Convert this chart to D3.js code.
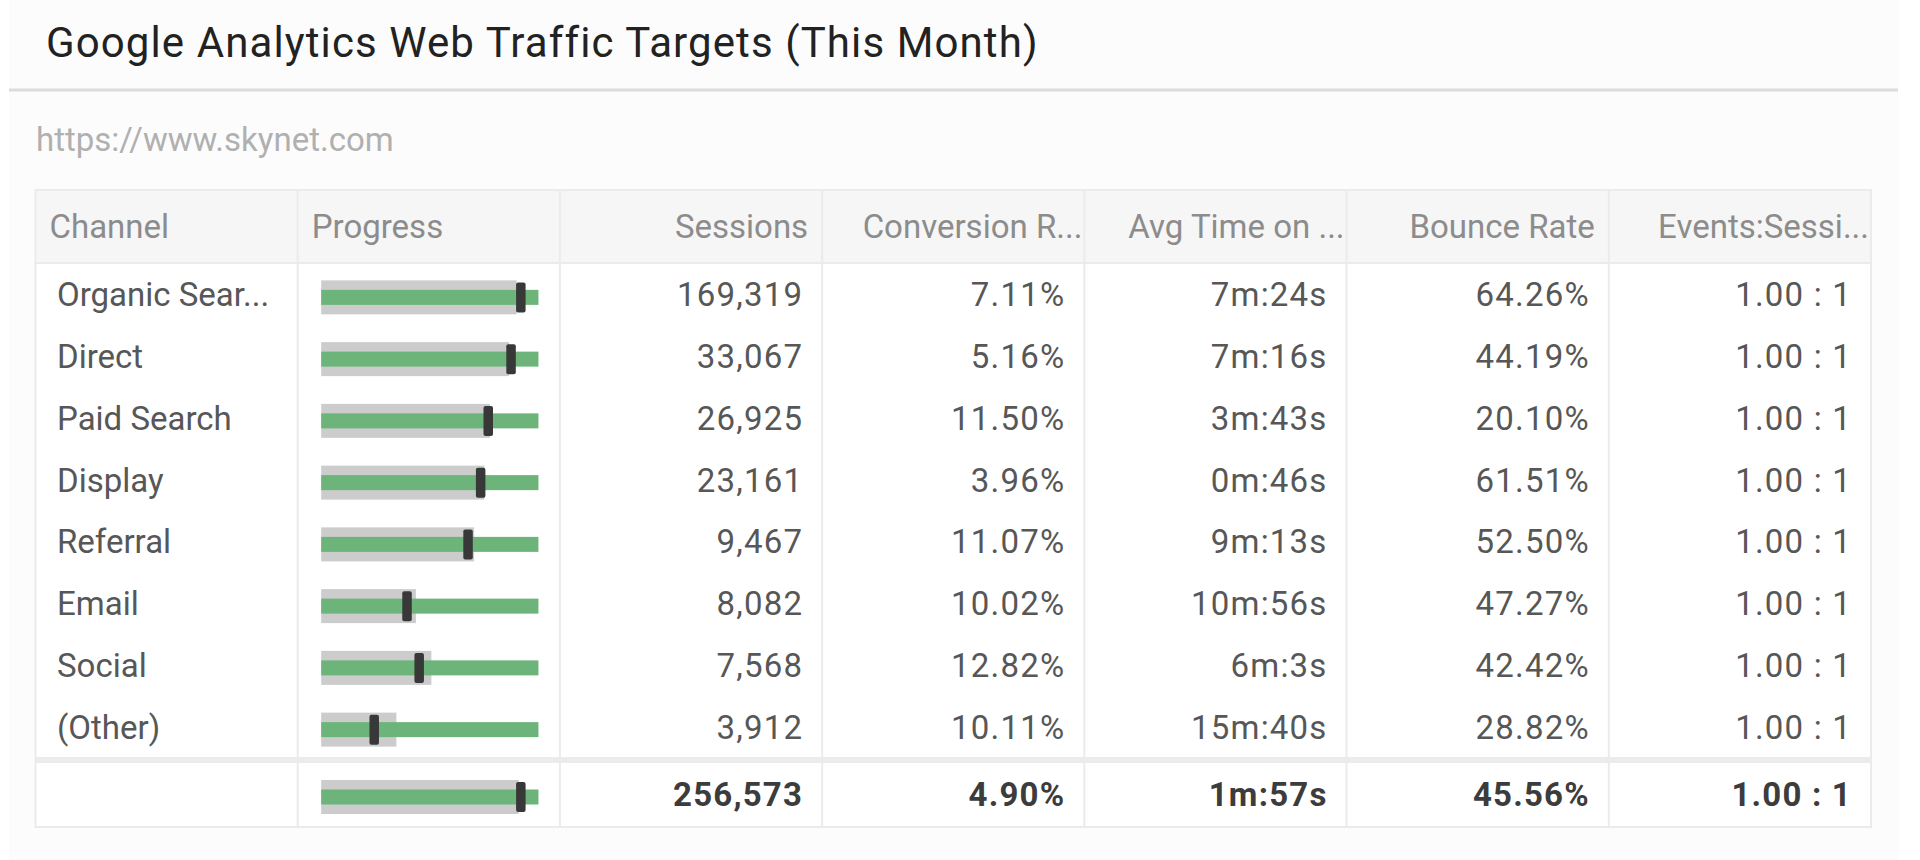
<!DOCTYPE html>
<html>
<head>
<meta charset="utf-8">
<script src="https://cdn.jsdelivr.net/npm/d3@7"></script>
<style>
    body { margin: 0; background: #ffffff; }
    svg { display: block; font-family: Roboto, "Noto Sans", sans-serif; }
</style>
</head>
<body>
<div id="klip"></div>
<script>
// Table data
var columns = ["Channel", "Progress", "Sessions", "Conversion Rate", "Avg Time on Page", "Bounce Rate", "Events:Sessions"];
var channels = ["Organic Search", "Direct", "Paid Search", "Display", "Referral", "Email", "Social", "(Other)"];
var sessions = [169319, 33067, 26925, 23161, 9467, 8082, 7568, 3912];
var conversionRate = [7.11, 5.16, 11.50, 3.96, 11.07, 10.02, 12.82, 10.11];
var avgTimeSec = [444, 436, 223, 46, 553, 656, 363, 940];
var bounceRate = [64.26, 44.19, 20.10, 61.51, 52.50, 47.27, 42.42, 28.82];
var eventsPerSession = [1, 1, 1, 1, 1, 1, 1, 1];

// Progress bullets (share of target)
var progressBand = [0.900, 0.865, 0.777, 0.751, 0.704, 0.436, 0.507, 0.346];
var progressMarker = [0.919, 0.874, 0.769, 0.734, 0.676, 0.395, 0.451, 0.244];

// Totals row
var totalSessions = 256573;
var totalConversion = 4.90;
var totalAvgTime = 117;
var totalBounce = 45.56;
var totalEvents = 1;
var totalBand = 0.909;
var totalMarker = 0.919;

var W = 1920, H = 860;
var table = { left: 35.5, right: 1871, top: 190, headBottom: 263, bodyBottom: 757, totalTop: 763, bottom: 827 };

var fmtInt = d3.format(",");
var fmtPct = function (v) { return d3.format(".2f")(v) + "%"; };
var fmtTime = function (s) { return Math.floor(s / 60) + "m:" + (s % 60) + "s"; };
var fmtRatio = function (v) { return d3.format(".2f")(v) + " : 1"; };

var svg = d3.select("#klip").append("svg")
    .attr("width", W)
    .attr("height", H);

// panel
svg.append("rect")
    .attr("x", 9).attr("y", 0)
    .attr("width", 1889).attr("height", H)
    .attr("fill", "#fcfcfc");

svg.append("text")
    .attr("x", 46)
    .attr("y", 57)
    .attr("fill", "#222")
    .style("font-size", "42px")
    .style("letter-spacing", "1.1px")
    .text("Google Analytics Web Traffic Targets (This Month)");

svg.append("line")
    .attr("x1", 9).attr("x2", 1898)
    .attr("y1", 90).attr("y2", 90)
    .attr("stroke", "#dcdcdc")
    .attr("stroke-width", 3);

svg.append("text")
    .attr("x", 36)
    .attr("y", 151)
    .attr("fill", "#b0b0b0")
    .style("font-size", "33px")
    .text("https://www.skynet.com");

// scales
var x = d3.scaleBand()
    .domain(columns)
    .range([table.left, table.right]);

var y = d3.scaleBand()
    .domain(channels)
    .range([table.headBottom, table.bodyBottom]);

var p = d3.scaleLinear()
    .domain([0, 1])
    .range([x("Progress") + 23.5, x("Progress") + x.bandwidth() - 21.5]);

var g = svg.append("g");

// backgrounds
g.append("rect")
    .attr("x", table.left).attr("y", table.top)
    .attr("width", table.right - table.left).attr("height", table.bottom - table.top)
    .attr("fill", "#ffffff");

g.append("rect")
    .attr("x", table.left).attr("y", table.top)
    .attr("width", table.right - table.left).attr("height", table.headBottom - table.top)
    .attr("fill", "#f6f6f6");

g.append("rect")
    .attr("x", table.left).attr("y", table.bodyBottom)
    .attr("width", table.right - table.left).attr("height", table.totalTop - table.bodyBottom)
    .attr("fill", "#ebebeb");

// grid lines
var lineColor = "#ebebeb";
g.selectAll(".vline")
    .data(columns.slice(1))
    .enter().append("line")
    .attr("class", "vline")
    .attr("x1", function (d) { return x(d); })
    .attr("x2", function (d) { return x(d); })
    .attr("y1", table.top).attr("y2", table.bottom)
    .attr("stroke", lineColor)
    .attr("stroke-width", 2);

g.append("line")
    .attr("x1", table.left).attr("x2", table.right)
    .attr("y1", table.headBottom).attr("y2", table.headBottom)
    .attr("stroke", lineColor)
    .attr("stroke-width", 2);

g.append("rect")
    .attr("x", table.left).attr("y", table.top)
    .attr("width", table.right - table.left).attr("height", table.bottom - table.top)
    .attr("fill", "none")
    .attr("stroke", lineColor)
    .attr("stroke-width", 2);

// fit text into a width, adding "..." when it does not fit
function fitText(sel, text, maxW) {
    var node = sel.node();
    sel.text(text);
    if (node.getComputedTextLength() <= maxW) return false;
    var s = text;
    while (s.length > 0) {
        s = s.slice(0, -1);
        sel.text(s + "...");
        if (node.getComputedTextLength() <= maxW) break;
    }
    return true;
}

// header
columns.forEach(function (c, i) {
    var t = g.append("text")
        .attr("y", 238)
        .attr("fill", "#8c8c8c")
        .style("font-size", "33px");
    if (i < 2) {
        t.attr("x", x(c) + 14).text(c);
    } else {
        var cut = fitText(t, c, x.bandwidth() - 36);
        t.attr("text-anchor", "end")
            .attr("x", x(c) + x.bandwidth() - (cut ? 2 : 14));
    }
});

// rows
var rows = channels.map(function (c, i) {
    return {
        label: c,
        cells: [fmtInt(sessions[i]), fmtPct(conversionRate[i]), fmtTime(avgTimeSec[i]),
            fmtPct(bounceRate[i]), fmtRatio(eventsPerSession[i])],
        band: progressBand[i],
        marker: progressMarker[i],
        cy: y(c) + y.bandwidth() / 2
    };
});
rows.push({
    label: "",
    cells: [fmtInt(totalSessions), fmtPct(totalConversion), fmtTime(totalAvgTime),
        fmtPct(totalBounce), fmtRatio(totalEvents)],
    band: totalBand,
    marker: totalMarker,
    cy: (table.totalTop + table.bottom) / 2 - 1.5,
    total: true
});

var row = g.selectAll(".row")
    .data(rows)
    .enter().append("g")
    .attr("class", "row");

row.each(function (d) {
    var r = d3.select(this);
    var textColor = d.total ? "#3c3c3c" : "#575757";
    var weight = d.total ? "bold" : "normal";

    var lbl = r.append("text")
        .attr("x", x("Channel") + 21.5)
        .attr("y", d.cy + 12.5)
        .attr("fill", textColor)
        .style("font-size", "33px");
    fitText(lbl, d.label, x.bandwidth() - 40);

    // bullet
    var by = d.cy + 3.5;
    r.append("rect")
        .attr("x", p(0)).attr("y", by - 17)
        .attr("width", p(d.band) - p(0)).attr("height", 34)
        .attr("fill", "#cccccc");
    r.append("rect")
        .attr("x", p(0)).attr("y", by - 7.5)
        .attr("width", p(1) - p(0)).attr("height", 15)
        .attr("fill", "#6cb47a");
    r.append("rect")
        .attr("x", p(d.marker) - 4.75).attr("y", by - 15)
        .attr("width", 9.5).attr("height", 30)
        .attr("rx", 2)
        .attr("fill", "#383838");

    d.cells.forEach(function (v, k) {
        var col = columns[k + 2];
        r.append("text")
            .attr("x", x(col) + x.bandwidth() - 19)
            .attr("y", d.cy + 12.5)
            .attr("text-anchor", "end")
            .attr("fill", textColor)
            .style("font-size", "33px")
            .style("font-weight", weight)
            .style("letter-spacing", "1.2px")
            .text(v);
    });
});
</script>
</body>
</html>
